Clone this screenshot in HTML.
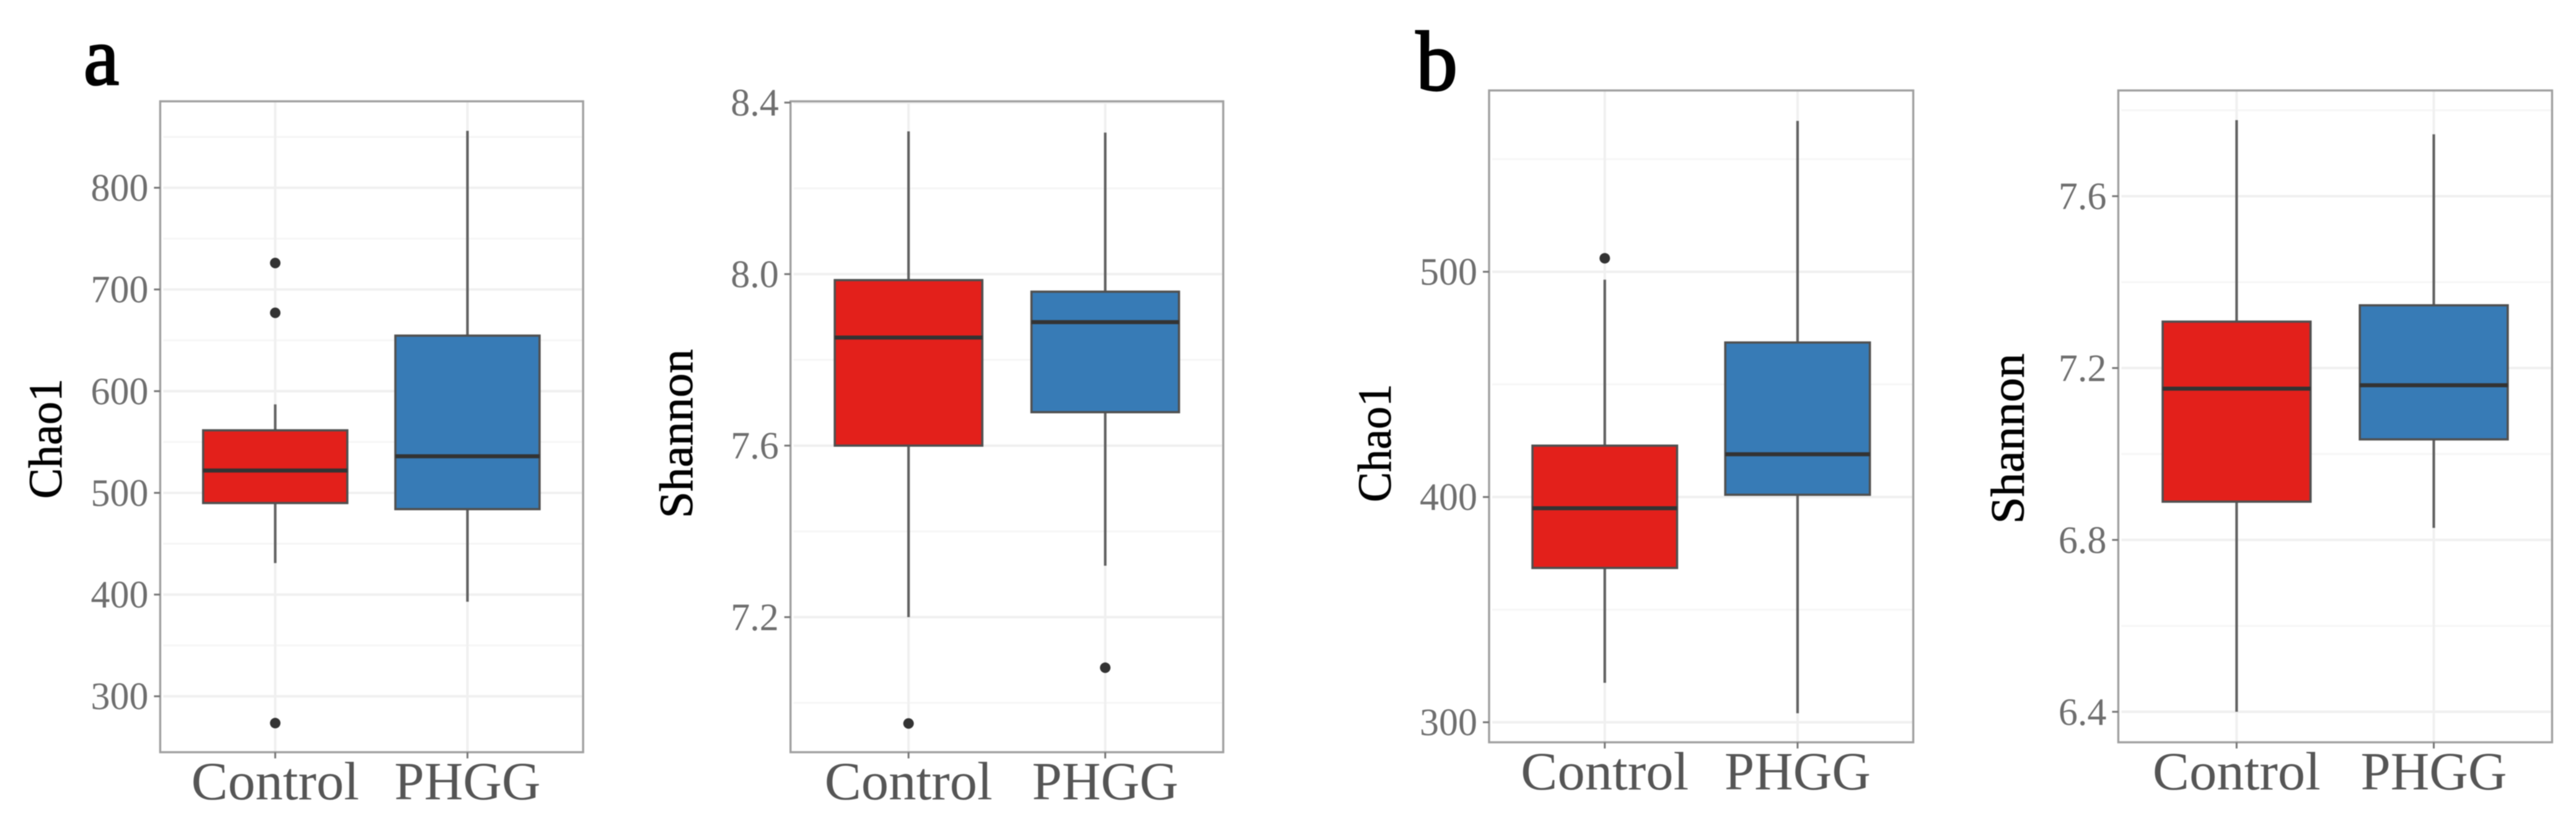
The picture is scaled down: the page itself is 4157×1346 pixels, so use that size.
<!DOCTYPE html>
<html lang="en">
<head>
<meta charset="utf-8">
<title>Chao1 and Shannon diversity boxplots</title>
<style>
  html, body { margin: 0; padding: 0; background: #fff; width: 4157px; height: 1346px; overflow: hidden; }
  svg { display: block; filter: blur(0.9px); }
  text { font-family: "Liberation Serif", serif; }
</style>
</head>
<body>
<svg id="figure" xmlns="http://www.w3.org/2000/svg" width="4157" height="1346" viewBox="0 0 4157 1346">
  <rect x="0" y="0" width="4157" height="1346" fill="#ffffff"/>
  <text x="135" y="136" font-size="134" fill="#000" stroke="#000" stroke-width="3" textLength="57" lengthAdjust="spacingAndGlyphs">a</text>
  <text x="2285" y="145" font-size="137" fill="#000" stroke="#000" stroke-width="3" textLength="67" lengthAdjust="spacingAndGlyphs">b</text>
</svg>
<script>
// Categories
const categories = ['Control', 'PHGG'];

// Panel a, Chao1: [whisker low, q1, median, q3, whisker high]
const chaoAControl = [431, 490, 522, 561.5, 587];
const chaoAPhgg = [393, 484, 536, 654.6, 856];
const chaoAOutliersControl = [726, 677, 273.6];
const chaoAOutliersPhgg = [];
const chaoADomain = [245, 885];
const chaoAMajorTicks = [300, 400, 500, 600, 700, 800];
const chaoAMinorTicks = [350, 450, 550, 650, 750, 850];

// Panel a, Shannon
const shanAControl = [7.2, 7.6, 7.852, 7.986, 8.333];
const shanAPhgg = [7.32, 7.678, 7.888, 7.959, 8.33];
const shanAOutliersControl = [6.952];
const shanAOutliersPhgg = [7.082];
const shanADomain = [6.885, 8.403];
const shanAMajorTicks = [7.2, 7.6, 8.0, 8.4];
const shanAMinorTicks = [7.0, 7.4, 7.8, 8.2];

// Panel b, Chao1
const chaoBControl = [317.5, 368.5, 395, 422.8, 496.5];
const chaoBPhgg = [304, 401, 419, 468.6, 567];
const chaoBOutliersControl = [506];
const chaoBOutliersPhgg = [];
const chaoBDomain = [291.1, 580.5];
const chaoBMajorTicks = [300, 400, 500];
const chaoBMinorTicks = [350, 450, 550];

// Panel b, Shannon
const shanBControl = [6.4, 6.889, 7.152, 7.308, 7.777];
const shanBPhgg = [6.828, 7.034, 7.16, 7.346, 7.744];
const shanBOutliersControl = [];
const shanBOutliersPhgg = [];
const shanBDomain = [6.329, 7.846];
const shanBMajorTicks = [6.4, 6.8, 7.2, 7.6];
const shanBMinorTicks = [6.6, 7.0, 7.4, 7.8];

const SVG_NS = 'http://www.w3.org/2000/svg';
const root = document.getElementById('figure');
const fillColors = ['#E3201B', '#377BB6'];

function make(tag, attrs, parent) {
  const node = document.createElementNS(SVG_NS, tag);
  for (const key in attrs) node.setAttribute(key, attrs[key]);
  parent.appendChild(node);
  return node;
}

function drawPanel(opt) {
  const g = make('g', {}, root);
  
  

  const L = opt.left, R = opt.right, T = opt.top, B = opt.bottom;
  const yScale = v => B - (v - opt.domain[0]) / (opt.domain[1] - opt.domain[0]) * (B - T);
  const unit = (R - L) / 2.2;
  const xScale = i => L + (0.6 + i) * unit + opt.xShift;
  const boxHalf = 0.375 * unit;

  const plot = make('rect', { x: L, y: T, width: R - L, height: B - T, fill: '#ffffff' }, g);
  
  

  opt.minor.forEach(v => {
    const line = make('line', { x1: L + 5, x2: R - 2, y1: yScale(v), y2: yScale(v), stroke: '#f6f6f6', 'stroke-width': 3 }, g);
    
    
  });
  opt.major.forEach(v => {
    const line = make('line', { x1: L + 5, x2: R - 2, y1: yScale(v), y2: yScale(v), stroke: '#f0f0f0', 'stroke-width': 4 }, g);
    
    
  });
  categories.forEach((c, i) => {
    const line = make('line', { x1: xScale(i), x2: xScale(i), y1: T, y2: B, stroke: '#f0f0f0', 'stroke-width': 4 }, g);
    
    
  });

  opt.series.forEach((s, i) => {
    const x = xScale(i);
    const whiskerHigh = make('line', { x1: x, x2: x, y1: yScale(s[4]), y2: yScale(s[3]), stroke: '#626262', 'stroke-width': 4.2 }, g);
    
    

    const whiskerLow = make('line', { x1: x, x2: x, y1: yScale(s[1]), y2: yScale(s[0]), stroke: '#626262', 'stroke-width': 4.2 }, g);
    
    

    const box = make('rect', { x: x - boxHalf, y: yScale(s[3]), width: 2 * boxHalf, height: yScale(s[1]) - yScale(s[3]), fill: fillColors[i], stroke: '#505050', 'stroke-width': 3.6 }, g);
    
    

    const median = make('line', { x1: x - boxHalf, x2: x + boxHalf, y1: yScale(s[2]), y2: yScale(s[2]), stroke: '#333333', 'stroke-width': 6.5 }, g);
    
    

    opt.outliers[i].forEach(v => {
      const dot = make('circle', { cx: x, cy: yScale(v), r: 8.5, fill: '#333333' }, g);
      
      
    });
  });

  const border = make('rect', { x: L, y: T, width: R - L, height: B - T, fill: 'none', stroke: '#a0a0a0', 'stroke-width': 3.4 }, g);
  
  

  opt.major.forEach(v => {
    const tick = make('line', { x1: L - 10, x2: L, y1: yScale(v), y2: yScale(v), stroke: '#777777', 'stroke-width': 3 }, g);
    
    

    const label = make('text', { x: L - 19, y: yScale(v) + 21, 'text-anchor': 'end', 'font-size': 62, fill: '#6e6e6e' }, g);
    
    
    label.textContent = opt.decimals ? v.toFixed(opt.decimals) : String(v);
  });

  categories.forEach((c, i) => {
    const tick = make('line', { x1: xScale(i), x2: xScale(i), y1: B, y2: B + 10, stroke: '#777777', 'stroke-width': 3 }, g);
    
    

    const label = make('text', { x: xScale(i), y: B + 76, 'text-anchor': 'middle', 'font-size': 87, fill: '#555555', textLength: i === 0 ? 271 : 236, lengthAdjust: 'spacingAndGlyphs' }, g);
    
    
    label.textContent = c;
  });

  const title = make('text', {
    transform: 'translate(' + opt.titleX + ',' + opt.titleY + ') rotate(-90)',
    'text-anchor': 'middle', 'font-size': 76, fill: '#000000', stroke: '#000000', 'stroke-width': 0.8,
    textLength: opt.titleLength, lengthAdjust: 'spacingAndGlyphs'
  }, g);
  
  
  title.textContent = opt.title;
}

drawPanel({
  id: 'panel-a-chao1', left: 258.5, right: 941, top: 163.5, bottom: 1214, xShift: -0.5,
  domain: chaoADomain, major: chaoAMajorTicks, minor: chaoAMinorTicks, decimals: 0,
  series: [chaoAControl, chaoAPhgg], outliers: [chaoAOutliersControl, chaoAOutliersPhgg],
  title: 'Chao1', titleX: 99, titleY: 708, titleLength: 194
});
drawPanel({
  id: 'panel-a-shannon', left: 1275.7, right: 1974, top: 163.5, bottom: 1214, xShift: 0,
  domain: shanADomain, major: shanAMajorTicks, minor: shanAMinorTicks, decimals: 1,
  series: [shanAControl, shanAPhgg], outliers: [shanAOutliersControl, shanAOutliersPhgg],
  title: 'Shannon', titleX: 1117, titleY: 700, titleLength: 273
});
drawPanel({
  id: 'panel-b-chao1', left: 2403, right: 3087.5, top: 146, bottom: 1198, xShift: 0,
  domain: chaoBDomain, major: chaoBMajorTicks, minor: chaoBMinorTicks, decimals: 0,
  series: [chaoBControl, chaoBPhgg], outliers: [chaoBOutliersControl, chaoBOutliersPhgg],
  title: 'Chao1', titleX: 2244, titleY: 715, titleLength: 191
});
drawPanel({
  id: 'panel-b-shannon', left: 3418.4, right: 4118.4, top: 146, bottom: 1198, xShift: 0,
  domain: shanBDomain, major: shanBMajorTicks, minor: shanBMinorTicks, decimals: 1,
  series: [shanBControl, shanBPhgg], outliers: [shanBOutliersControl, shanBOutliersPhgg],
  title: 'Shannon', titleX: 3265.6, titleY: 708, titleLength: 275
});
</script>
</body>
</html>
